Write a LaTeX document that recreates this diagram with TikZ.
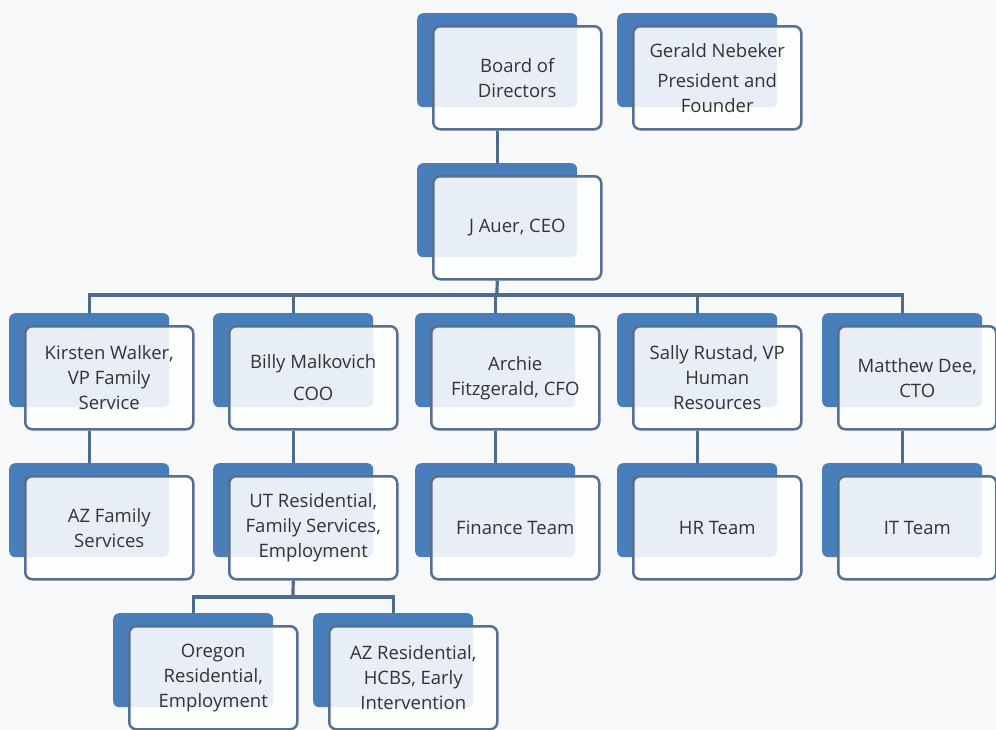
\documentclass[tikz,border=0pt]{standalone}
\usepackage{fontspec}
\setmainfont{Open Sans}
\usetikzlibrary{calc}
\definecolor{bgc}{HTML}{F7F8F9}
\definecolor{backblue}{HTML}{4A7EBB}
\definecolor{frameC}{HTML}{56708E}
\definecolor{connC}{HTML}{4F6A8C}
\definecolor{txtC}{HTML}{333333}
\tikzset{
  backbox/.style={fill=backblue, draw=none, rounded corners=6pt,
    minimum width=160pt, minimum height=94pt, inner sep=0pt},
  frontbox/.style={draw=frameC, line width=2.5pt, fill=white, fill opacity=0.87,
    text opacity=1, rounded corners=7pt, minimum height=103pt, inner sep=2pt,
    align=center, text=txtC, font=\fontsize{18.5}{25}\selectfont},
  conn/.style={draw=connC, line width=3.2pt}
}
\newcommand{\obox}[5][168]{%
  \node[backbox, anchor=north west] (#2B) at (#3,#4) {};
  \node[frontbox, minimum width=#1pt, anchor=north west] (#2) at ({#3+15},{#4+12}) {#5};
}
\begin{document}
\begin{tikzpicture}[x=1pt,y=-1pt]
\fill[bgc] (0,0) rectangle (996,729);
\useasboundingbox (0,0) rectangle (996,729);
% top
\obox{board}{417}{13}{Board of\\Directors}
\obox{gn}{617}{13}{Gerald Nebeker\\[5pt]President and\\Founder}
\obox{ceo}{417}{163}{J Auer, CEO}
% row 3
\obox{kw}{9}{313}{Kirsten Walker,\\VP Family\\Service}
\obox{bm}{213}{313}{Billy Malkovich\\[7pt]COO}
\obox{af}{415}{313}{Archie\\Fitzgerald, CFO}
\obox{sr}{617}{313}{Sally Rustad, VP\\Human\\Resources}
\obox[158]{md}{822}{313}{Matthew Dee,\\CTO}
% row 4
\obox{azf}{9}{463}{AZ Family\\Services}
\obox{ut}{213}{463}{UT Residential,\\Family Services,\\Employment}
\obox{fin}{415}{463}{Finance Team}
\obox{hr}{617}{463}{HR Team}
\obox[158]{it}{822}{463}{IT Team}
% row 5
\obox{or}{113}{613}{Oregon\\Residential,\\Employment}
\obox{azr}{313}{613}{AZ Residential,\\HCBS, Early\\Intervention}
% connectors
\coordinate (bus) at (497,295);
\coordinate (bus2) at (293,597);
\draw[conn] (board.south -| boardB.center) -- (ceoB.north);
\draw[conn] (ceo.south -| ceoB.center) -- (bus);
\draw[conn] (kwB.north) |- (bus) -| (mdB.north);
\draw[conn] (bus -| bmB.north) -- (bmB.north);
\draw[conn] (bus -| afB.north) -- (afB.north);
\draw[conn] (bus -| srB.north) -- (srB.north);
\draw[conn] (kw.south -| kwB.center) -- (azfB.north);
\draw[conn] (bm.south -| bmB.center) -- (utB.north);
\draw[conn] (af.south -| afB.center) -- (finB.north);
\draw[conn] (sr.south -| srB.center) -- (hrB.north);
\draw[conn] (md.south -| mdB.center) -- (itB.north);
\draw[conn] (ut.south -| utB.center) -- (bus2);
\draw[conn] (orB.north) |- (bus2) -| (azrB.north);
\end{tikzpicture}
\end{document}
